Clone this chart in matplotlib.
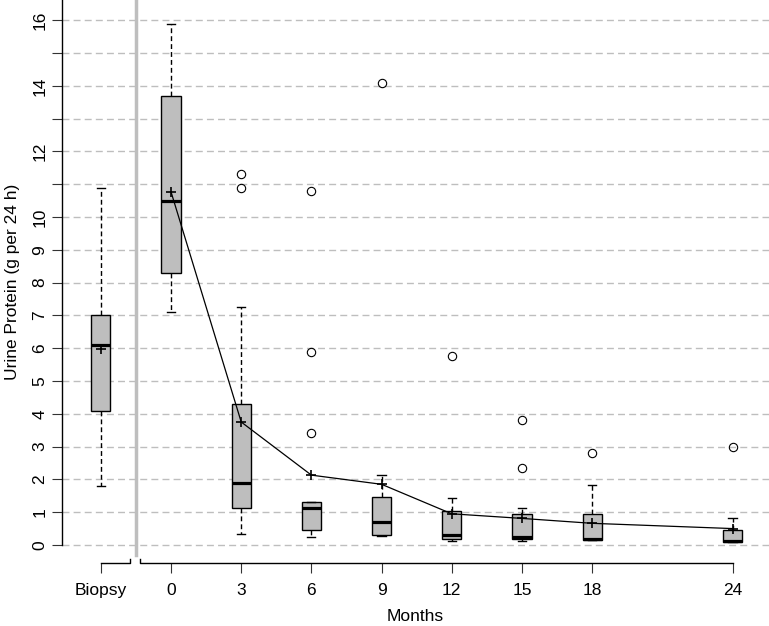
import matplotlib
matplotlib.use("Agg")
import matplotlib.pyplot as plt
import matplotlib.transforms as mtransforms

plt.rcParams['font.family'] = ['Liberation Sans', 'DejaVu Sans']
plt.rcParams['font.size'] = 12.5

# Box statistics (g per 24 h)
labels = ["Biopsy", "0", "3", "6", "9", "12", "15", "18", "24"]
months = [-3, 0, 3, 6, 9, 12, 15, 18, 24]
whis_lo = [1.8, 7.1, 0.33, 0.25, 0.28, 0.13, 0.13, 0.15, 0.08]
q1 = [4.1, 8.3, 1.13, 0.47, 0.3, 0.19, 0.19, 0.15, 0.1]
medians = [6.1, 10.5, 1.9, 1.14, 0.71, 0.3, 0.23, 0.18, 0.13]
q3 = [7.0, 13.7, 4.3, 1.3, 1.45, 1.05, 0.93, 0.93, 0.45]
whis_hi = [10.9, 15.9, 7.25, 1.3, 2.12, 1.43, 1.12, 1.82, 0.82]
means = [5.98, 10.77, 3.75, 2.13, 1.85, 0.95, 0.81, 0.66, 0.5]
outliers = [[], [], [11.3, 10.9], [10.8, 5.9, 3.4], [14.1], [5.75],
            [3.8, 2.35], [2.8], [3.0]]
ytick_vals = list(range(0, 17))
ytick_labels = [str(v) if v not in (11, 13, 15) else "" for v in ytick_vals]

stats = []
for i in range(len(labels)):
    stats.append(dict(label=labels[i], whislo=whis_lo[i], q1=q1[i], med=medians[i],
                      q3=q3[i], whishi=whis_hi[i], fliers=outliers[i]))

fig = plt.figure(figsize=(7.69, 6.26), dpi=100)
ax = fig.add_axes([62 / 769, 63 / 626, 1 - 62 / 769, 563 / 626])

ax.bxp(stats, positions=months, widths=0.82, patch_artist=True,
       boxprops=dict(facecolor='#bebebe', edgecolor='black', lw=1),
       medianprops=dict(color='black', lw=2.3, solid_capstyle='butt'),
       whiskerprops=dict(color='black', lw=1, linestyle=(0, (3.5, 2.2))),
       capprops=dict(color='black', lw=1), capwidths=0.35,
       flierprops=dict(marker='o', mfc='none', mec='black', ms=6, mew=0.8))

# means: crosses for every group, line for follow-up months only
ax.plot(months, means, '+', color='black', ms=7, mew=1.2, zorder=5)
ax.plot(months[1:], means[1:], '-', color='black', lw=0.9, zorder=4)

ax.set_xlim(-4.66, 25.56)
ax.set_ylim(-0.55, 16.62)

# separator between biopsy and follow-up
ax.plot([-1.5, -1.5], [-0.3, 16.62], color='#bebebe', lw=2.5, zorder=1, clip_on=False)

ax.set_yticks(ytick_vals)
ax.set_yticklabels(ytick_labels, rotation=90, va='center')
ax.set_xticks(months)
ax.set_xticklabels(labels)
ax.tick_params(axis='y', length=7.2, width=0.8, color='#333333', pad=3.5)
ax.tick_params(axis='x', length=7.2, width=0.8, color='#333333', pad=7)

ax.yaxis.grid(True, color='#bebebe', lw=1, linestyle=(0, (5, 3)))
ax.set_axisbelow(True)

for s in ['top', 'right', 'bottom']:
    ax.spines[s].set_visible(False)
ax.spines['left'].set_bounds(0, 16.62)
ax.spines['left'].set_linewidth(1)

# broken x axis
trans = mtransforms.blended_transform_factory(ax.transData, ax.transAxes)
up = 4 / 563
ax.plot([-3, -1.75, -1.75], [0, 0, up], color='black', lw=1, transform=trans, clip_on=False)
ax.plot([-1.32, -1.32, 24], [up, 0, 0], color='black', lw=1, transform=trans, clip_on=False)

ax.set_xlabel("Months", labelpad=8)
ax.set_ylabel("Urine Protein (g per 24 h)", labelpad=9)

fig.savefig("out.png", dpi=100)
